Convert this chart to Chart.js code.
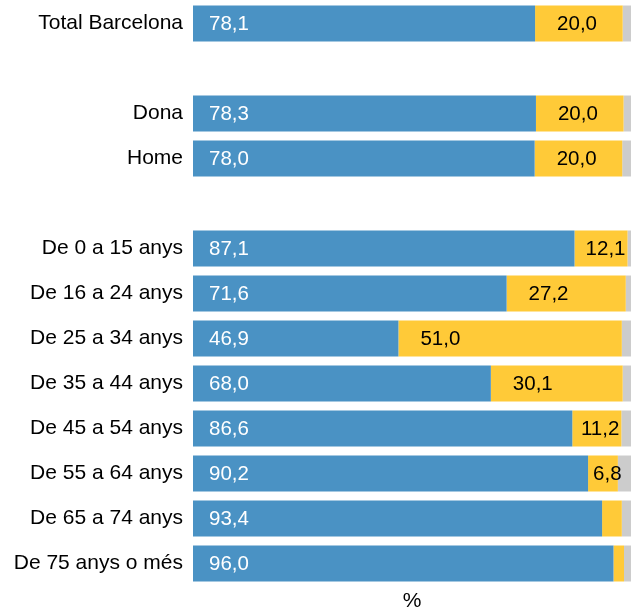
<!DOCTYPE html>
<html>
<head>
<meta charset="utf-8">
<script src="https://cdn.jsdelivr.net/npm/chart.js@4"></script>
<style>
  body { margin: 0; background: #fff; }
</style>
</head>
<body>
<canvas id="chart" width="631" height="612"></canvas>
<script>
// categories (empty ones are spacers)
var categories = [
  "Total Barcelona", "",
  "Dona", "Home", "",
  "De 0 a 15 anys", "De 16 a 24 anys", "De 25 a 34 anys", "De 35 a 44 anys",
  "De 45 a 54 anys", "De 55 a 64 anys", "De 65 a 74 anys", "De 75 anys o més"
];
var blueVals   = [78.1, null, 78.3, 78.0, null, 87.1, 71.6, 46.9, 68.0, 86.6, 90.2, 93.4, 96.0];
var yellowVals = [20.0, null, 20.0, 20.0, null, 12.1, 27.2, 51.0, 30.1, 11.2, 6.8, 4.5, 2.4];
var greyVals   = [1.9, null, 1.7, 2.0, null, 0.8, 1.2, 2.1, 1.9, 2.2, 3.0, 2.1, 1.6];

var fontFam = "'Liberation Sans', Arial, sans-serif";

function fmt(v) {
  return v.toFixed(1).replace(".", ",");
}

// draw values inside bars
var barLabels = {
  id: "barLabels",
  afterDatasetsDraw: function (chart) {
    var ctx = chart.ctx;
    ctx.save();
    ctx.font = "20.5px " + fontFam;
    ctx.textBaseline = "middle";
    ctx.textAlign = "left";
    chart.getDatasetMeta(0).data.forEach(function (bar, i) {
      var v = blueVals[i];
      if (v == null) return;
      ctx.fillStyle = "#ffffff";
      ctx.fillText(fmt(v), bar.base + 16, bar.y + 1);
    });
    chart.getDatasetMeta(1).data.forEach(function (bar, i) {
      var v = yellowVals[i];
      if (v == null || v < 5) return;
      var txt = fmt(v);
      var w = ctx.measureText(txt).width;
      var x = bar.base + 22;
      if (x + w > bar.x - 2) x = Math.max(bar.base + 5, bar.x - 2 - w);
      ctx.fillStyle = "#000000";
      ctx.fillText(txt, x, bar.y + 1);
    });
    ctx.restore();
  },
};

var myChart = new Chart(document.getElementById("chart"), {
  type: "bar",
  data: {
    labels: categories,
    datasets: [
      { data: blueVals, backgroundColor: "#4a92c4" },
      { data: yellowVals, backgroundColor: "#ffca38" },
      { data: greyVals, backgroundColor: "#cccccc" },
    ],
  },
  options: {
    indexAxis: "y",
    responsive: false,
    animation: false,
    layout: { padding: { top: 1 } },
    datasets: {
      bar: { barPercentage: 0.8, categoryPercentage: 1 },
    },
    plugins: {
      legend: { display: false },
      tooltip: { enabled: false },
    },
    scales: {
      x: {
        stacked: true,
        min: 0,
        max: 100,
        grid: { display: false },
        border: { display: false },
        ticks: { display: false },
        title: {
          display: true,
          text: "%",
          color: "#000",
          font: { family: fontFam, size: 21, lineHeight: 1 },
          padding: { top: -3, bottom: 0 },
        },
        afterFit: function (scale) {
          scale.height = 26;
          scale.paddingLeft = 0;
          scale.paddingRight = 0;
        },
      },
      y: {
        stacked: true,
        grid: { display: false, drawTicks: false },
        border: { display: false },
        ticks: {
          color: "#000",
          padding: 10,
          autoSkip: false,
          font: { family: fontFam, size: 21 },
        },
        afterFit: function (scale) {
          scale.width = 193;
          scale.paddingTop = 0;
          scale.paddingBottom = 0;
        },
      },
    },
  },
  plugins: [barLabels],
});
</script>
</body>
</html>
